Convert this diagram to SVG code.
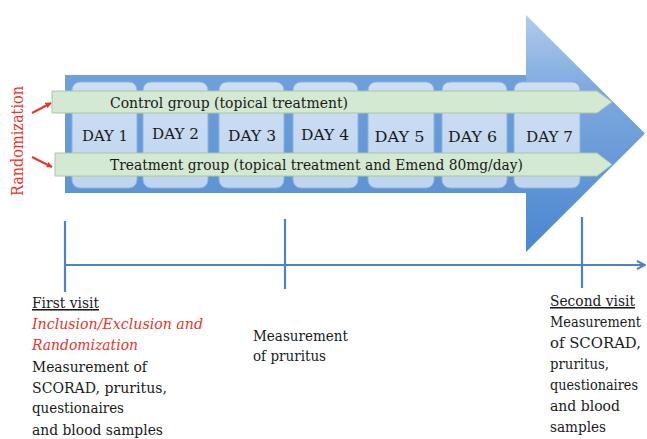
<svg xmlns="http://www.w3.org/2000/svg" width="647" height="439" viewBox="0 0 647 439">
<defs>
<linearGradient id="arrowGrad" x1="0" y1="15" x2="0" y2="252" gradientUnits="userSpaceOnUse">
<stop offset="0" stop-color="#b0cdec"/>
<stop offset="0.3" stop-color="#80aadf"/>
<stop offset="1" stop-color="#4a86cf"/>
</linearGradient>
<linearGradient id="dayGrad" x1="0" y1="0" x2="0" y2="1">
<stop offset="0" stop-color="#cddff3"/>
<stop offset="1" stop-color="#bfd4ee"/>
</linearGradient>
<marker id="tip" viewBox="0 0 10 10" refX="9" refY="5" markerWidth="6" markerHeight="6" orient="auto" markerUnits="userSpaceOnUse">
<path d="M0,0 L10,5 L0,10 z" fill="#e8352a"/>
</marker>
<marker id="tlTip" viewBox="0 0 10 10" refX="9" refY="5" markerWidth="10" markerHeight="10" orient="auto" markerUnits="userSpaceOnUse">
<path d="M1,1 L9,5 L1,9" fill="none" stroke="#4f82c2" stroke-width="2"/>
</marker>
</defs>
<style>
.day{fill:url(#dayGrad);stroke:#8fb2de;stroke-width:1}
.bar{fill:#d4e9d2;stroke:#a9c6a6;stroke-width:1}
text{font-family:"DejaVu Serif","Liberation Serif",serif;fill:#1a1a1a}
.dt{font-size:15.5px;text-anchor:middle}
.bt{font-size:15.5px}
.red{fill:#e8352a}
.tl{stroke:#4f82c2;stroke-width:2.2;fill:none}
</style>
<rect width="647" height="439" fill="#ffffff"/>
<g id="bigArrow">
<path d="M65,75 L526,75 L526,15 L645,133.5 L526,252 L526,193 L65,193 Z" fill="url(#arrowGrad)"/>
<rect x="65" y="75" width="461" height="118" fill="#5e95d5" opacity="0.55"/>
</g>
<g id="days">
<g id="day1"><rect class="day" x="72" y="82" width="65" height="106" rx="8"/><text class="dt" x="105" y="141" textLength="46" lengthAdjust="spacingAndGlyphs">DAY 1</text></g>
<g id="day2"><rect class="day" x="143" y="82" width="65" height="106" rx="8"/><text class="dt" x="175.5" y="139" textLength="47" lengthAdjust="spacingAndGlyphs">DAY 2</text></g>
<g id="day3"><rect class="day" x="219" y="82" width="65" height="106" rx="8"/><text class="dt" x="252" y="141" textLength="48" lengthAdjust="spacingAndGlyphs">DAY 3</text></g>
<g id="day4"><rect class="day" x="293" y="82" width="65" height="106" rx="8"/><text class="dt" x="325" y="140" textLength="48" lengthAdjust="spacingAndGlyphs">DAY 4</text></g>
<g id="day5"><rect class="day" x="368" y="82" width="66" height="106" rx="8"/><text class="dt" x="399.5" y="142" textLength="50" lengthAdjust="spacingAndGlyphs">DAY 5</text></g>
<g id="day6"><rect class="day" x="442" y="82" width="65" height="106" rx="8"/><text class="dt" x="472.5" y="142" textLength="49" lengthAdjust="spacingAndGlyphs">DAY 6</text></g>
<g id="day7"><rect class="day" x="514" y="82" width="66" height="106" rx="8"/><text class="dt" x="549.5" y="142" textLength="47" lengthAdjust="spacingAndGlyphs">DAY 7</text></g>
</g>
<g id="controlBar">
<polygon class="bar" points="52,91 597,91 612,102 597,113 52,113"/>
<text class="bt" x="110" y="107.5" textLength="238" lengthAdjust="spacingAndGlyphs">Control group (topical treatment)</text>
</g>
<g id="treatmentBar">
<polygon class="bar" points="55,153 597,153 612,164.5 597,176 55,176"/>
<text class="bt" x="110" y="170" textLength="413" lengthAdjust="spacingAndGlyphs">Treatment group (topical treatment and Emend 80mg/day)</text>
</g>
<g id="randomization">
<text class="red" x="-55" y="0" font-size="16" transform="translate(23,141) rotate(-90)" textLength="110" lengthAdjust="spacingAndGlyphs">Randomization</text>
</g>
<g id="connectors">
<line x1="32" y1="113" x2="51" y2="103" stroke="#e8352a" stroke-width="2" marker-end="url(#tip)"/>
<line x1="32" y1="157" x2="52" y2="167" stroke="#e8352a" stroke-width="2" marker-end="url(#tip)"/>
<line class="tl" x1="65" y1="265" x2="645" y2="265" marker-end="url(#tlTip)"/>
<line class="tl" x1="65" y1="221" x2="65" y2="292"/>
<line class="tl" x1="285" y1="219" x2="285" y2="289"/>
<line class="tl" x1="582" y1="217" x2="582" y2="288"/>
</g>
<g id="firstVisit">
<text class="bt" x="32" y="308" text-decoration="underline" textLength="67" lengthAdjust="spacingAndGlyphs">First visit</text>
<text class="bt red" x="32" y="329" font-style="italic" textLength="171" lengthAdjust="spacingAndGlyphs">Inclusion/Exclusion and</text>
<text class="bt red" x="32" y="350" font-style="italic" textLength="106" lengthAdjust="spacingAndGlyphs">Randomization</text>
<text class="bt" x="32" y="372" textLength="115" lengthAdjust="spacingAndGlyphs">Measurement of</text>
<text class="bt" x="32" y="393" textLength="135" lengthAdjust="spacingAndGlyphs">SCORAD, pruritus,</text>
<text class="bt" x="32" y="413" textLength="92" lengthAdjust="spacingAndGlyphs">questionaires</text>
<text class="bt" x="32" y="435" textLength="131" lengthAdjust="spacingAndGlyphs">and blood samples</text>
</g>
<g id="midVisit">
<text class="bt" x="253" y="341" textLength="95" lengthAdjust="spacingAndGlyphs">Measurement</text>
<text class="bt" x="253" y="361" textLength="73" lengthAdjust="spacingAndGlyphs">of pruritus</text>
</g>
<g id="secondVisit">
<text class="bt" x="550" y="306" text-decoration="underline" textLength="85" lengthAdjust="spacingAndGlyphs">Second visit</text>
<text class="bt" x="550" y="327" textLength="91" lengthAdjust="spacingAndGlyphs">Measurement</text>
<text class="bt" x="550" y="348" textLength="91" lengthAdjust="spacingAndGlyphs">of SCORAD,</text>
<text class="bt" x="550" y="369" textLength="59" lengthAdjust="spacingAndGlyphs">pruritus,</text>
<text class="bt" x="550" y="390" textLength="88" lengthAdjust="spacingAndGlyphs">questionaires</text>
<text class="bt" x="550" y="411" textLength="70" lengthAdjust="spacingAndGlyphs">and blood</text>
<text class="bt" x="550" y="432" textLength="56" lengthAdjust="spacingAndGlyphs">samples</text>
</g>
</svg>
